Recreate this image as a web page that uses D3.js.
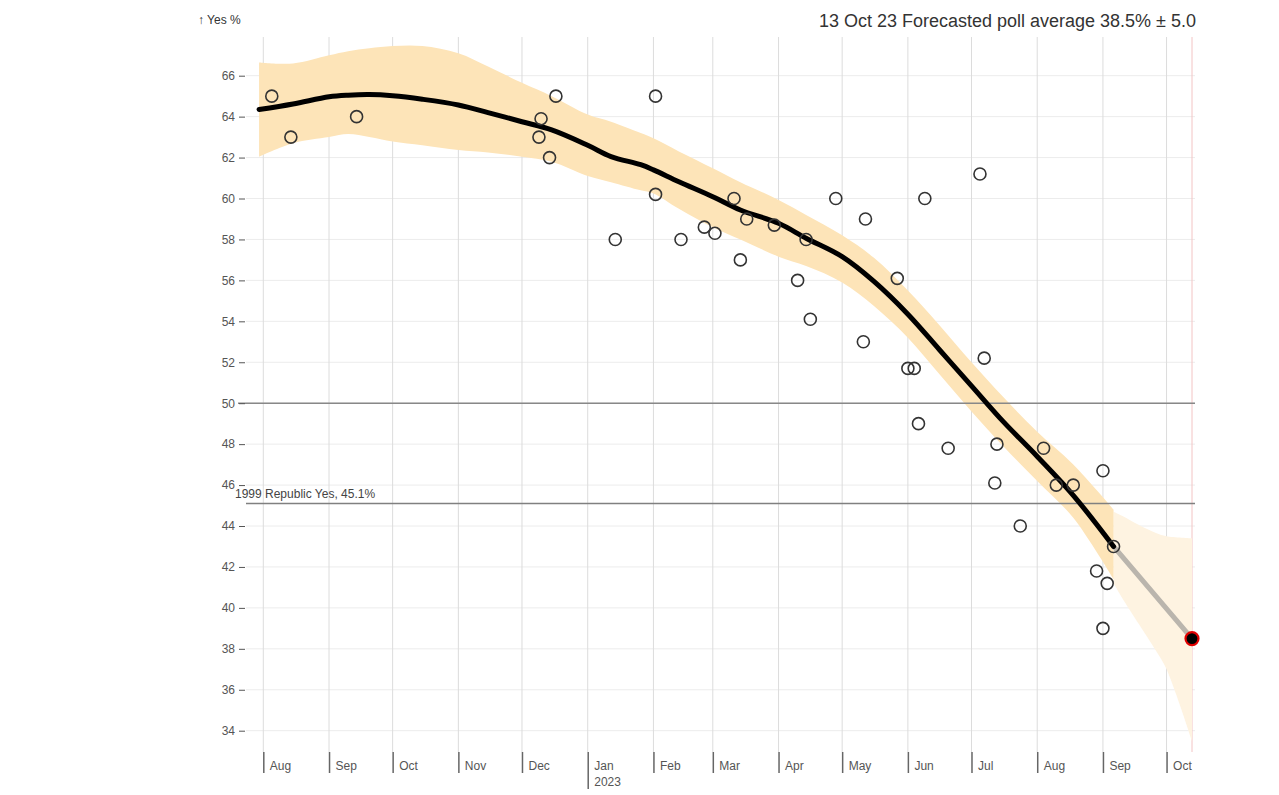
<!DOCTYPE html>
<html>
<head>
<meta charset="utf-8">
<script src="https://cdn.jsdelivr.net/npm/d3@7"></script>
<style>
  html, body { margin: 0; padding: 0; background: #fff; }
  svg { display: block; font-family: "Liberation Sans", Arial, sans-serif; }
</style>
</head>
<body>
<svg id="chart" width="1279" height="795"></svg>
<script>
// ---------------- DATA ----------------
const titleText = "13 Oct 23 Forecasted poll average 38.5% ± 5.0";
const yAxisLabel = "↑ Yes %";
const yTicks = [34,36,38,40,42,44,46,48,50,52,54,56,58,60,62,64,66];
const monthTicks = ["2022-08-01","2022-09-01","2022-10-01","2022-11-01","2022-12-01","2023-01-01",
  "2023-02-01","2023-03-01","2023-04-01","2023-05-01","2023-06-01","2023-07-01","2023-08-01","2023-09-01","2023-10-01"];
const refLines = [{value: 50, label: ""}, {value: 45.1, label: "1999 Republic Yes, 45.1%"}];

// poll results
const pollDates = ["2022-08-05","2022-08-14","2022-09-14","2022-12-10","2022-12-09","2022-12-14","2022-12-17",
  "2023-01-14","2023-02-02","2023-02-02","2023-02-14","2023-02-25","2023-03-02","2023-03-11","2023-03-17",
  "2023-03-14","2023-03-30","2023-04-14","2023-04-28","2023-04-10","2023-04-16","2023-05-12","2023-05-11",
  "2023-05-27","2023-06-01","2023-06-04","2023-06-09","2023-06-06","2023-06-20","2023-07-05","2023-07-07",
  "2023-07-13","2023-07-12","2023-07-24","2023-08-04","2023-08-10","2023-08-18","2023-09-01","2023-09-06",
  "2023-08-29","2023-09-03","2023-09-01"];
const pollValues = [65.0,63.0,64.0,63.9,63.0,62.0,65.0,
  58.0,65.0,60.2,58.0,58.6,58.3,60.0,59.0,
  57.0,58.7,58.0,60.0,56.0,54.1,59.0,53.0,
  56.1,51.7,51.7,60.0,49.0,47.8,61.2,52.2,
  48.0,46.1,44.0,47.8,46.0,46.0,46.7,43.0,
  41.8,41.2,39.0];

// trend (poll average) and its band
const trendDates = ["2022-07-30","2022-08-15","2022-09-01","2022-09-10","2022-09-20","2022-10-01","2022-10-15",
  "2022-11-01","2022-11-15","2022-12-01","2022-12-15","2023-01-01","2023-01-12","2023-01-26","2023-02-01",
  "2023-02-13","2023-03-01","2023-03-14","2023-04-01","2023-04-14","2023-05-01","2023-05-16","2023-06-01",
  "2023-06-16","2023-07-01","2023-07-16","2023-08-01","2023-08-18","2023-09-06"];
const trendValues = [64.35,64.62,64.97,65.05,65.08,65.02,64.85,
  64.57,64.2,63.75,63.35,62.6,62.05,61.65,61.4,
  60.82,60.09,59.44,58.79,58.06,57.16,55.95,54.35,
  52.6,50.85,49.1,47.4,45.5,43.0];
const bandLower = [62.04,62.7,63.0,63.15,63.0,62.78,62.6,
  62.37,62.25,62.04,61.8,61.1,60.8,60.4,60.25,
  59.5,58.6,58.0,57.16,56.7,55.9,54.75,53.2,
  51.4,49.6,47.9,46.2,44.4,41.4];
const bandUpper = [66.65,66.6,67.0,67.2,67.34,67.45,67.45,
  67.1,66.45,65.65,65.0,64.1,63.75,63.2,62.94,
  62.3,61.48,60.8,59.93,59.2,58.2,57.1,55.5,
  53.8,52.0,50.3,48.6,47.0,44.8];

// forecast
const forecastDates = ["2023-09-06","2023-10-13"];
const forecastValues = [43.0, 38.5];
const fBandDates = ["2023-09-06","2023-09-10","2023-09-18","2023-09-26","2023-10-01","2023-10-13"];
const fBandLower = [41.2,40.5,39.2,37.9,37.0,33.5];
const fBandUpper = [44.7,44.5,44.05,43.66,43.5,43.4];
const forecastDate = "2023-10-13";
const forecastValue = 38.5;

// ---------------- CHART ----------------
const parse = d3.utcParse("%Y-%m-%d");
const svg = d3.select("#chart");
const plot = {left: 246, right: 1195, top: 37, bottom: 752};

const x = d3.scaleUtc()
  .domain([parse("2022-08-01"), parse("2023-10-13")])
  .range([263.3, 1192]);
const y = d3.scaleLinear().domain([34, 66]).range([730.7, 75.7]);

const trend = trendDates.map((d,i) => ({date: parse(d), v: trendValues[i], lo: bandLower[i], hi: bandUpper[i]}));
const fband = fBandDates.map((d,i) => ({date: parse(d), lo: fBandLower[i], hi: fBandUpper[i]}));
const fline = forecastDates.map((d,i) => ({date: parse(d), v: forecastValues[i]}));
const polls = pollDates.map((d,i) => ({date: parse(d), v: pollValues[i]}));
const months = monthTicks.map(parse);

// horizontal grid
svg.append("g").selectAll("line").data(yTicks).join("line")
  .attr("x1", plot.left).attr("x2", plot.right)
  .attr("y1", d => y(d)).attr("y2", d => y(d))
  .attr("stroke", "#ececec").attr("stroke-width", 1);

// vertical grid
svg.append("g").selectAll("line").data(months).join("line")
  .attr("x1", d => x(d)).attr("x2", d => x(d))
  .attr("y1", plot.top).attr("y2", plot.bottom)
  .attr("stroke", "#dcdcdc").attr("stroke-width", 1);

// forecast date line
svg.append("line")
  .attr("x1", x(parse(forecastDate))).attr("x2", x(parse(forecastDate)))
  .attr("y1", plot.top).attr("y2", plot.bottom)
  .attr("stroke", "#f3c4c4").attr("stroke-width", 1);

// bands
const area = d3.area().x(d => x(d.date)).y0(d => y(d.lo)).y1(d => y(d.hi)).curve(d3.curveCatmullRom);
svg.append("path").datum(fband).attr("d", area).attr("fill", "#fef3e1");
svg.append("path").datum(trend).attr("d", area).attr("fill", "#fde4b8");

// reference lines
svg.append("line")
  .attr("x1", 238).attr("x2", plot.right)
  .attr("y1", y(refLines[0].value)).attr("y2", y(refLines[0].value))
  .attr("stroke", "#888").attr("stroke-width", 1.5);
svg.append("line")
  .attr("x1", plot.left).attr("x2", plot.right)
  .attr("y1", y(refLines[1].value)).attr("y2", y(refLines[1].value))
  .attr("stroke", "#808080").attr("stroke-width", 1.5);
svg.append("text")
  .attr("x", 235).attr("y", y(refLines[1].value) - 5)
  .attr("font-size", 12).attr("fill", "#444")
  .text(refLines[1].label);

// lines
const line = d3.line().x(d => x(d.date)).y(d => y(d.v)).curve(d3.curveCatmullRom);
svg.append("path").datum(fline).attr("d", line)
  .attr("fill", "none").attr("stroke", "#bab5ad").attr("stroke-width", 5).attr("stroke-linecap", "round");
svg.append("path").datum(trend).attr("d", line)
  .attr("fill", "none").attr("stroke", "#000").attr("stroke-width", 5).attr("stroke-linecap", "round");

// polls
svg.append("g").selectAll("circle").data(polls).join("circle")
  .attr("cx", d => x(d.date)).attr("cy", d => y(d.v)).attr("r", 6)
  .attr("fill", "none").attr("stroke", "#333").attr("stroke-width", 1.6);

// forecast dot
svg.append("circle")
  .attr("cx", x(parse(forecastDate))).attr("cy", y(forecastValue)).attr("r", 6.5)
  .attr("fill", "#000").attr("stroke", "#e00000").attr("stroke-width", 2.2);

// y axis
const yAxis = svg.append("g").attr("transform", "translate(245,0)")
  .call(d3.axisLeft(y).tickValues(yTicks).tickSize(6).tickPadding(4).tickFormat(d3.format("d")));
yAxis.select(".domain").remove();
yAxis.selectAll(".tick line").attr("stroke", "#555");
yAxis.selectAll(".tick text").attr("fill", "#555").attr("font-size", 12)
  .attr("font-family", "Liberation Sans, Arial, sans-serif");

// x axis
const monthFmt = d3.utcFormat("%b");
const xAxis = svg.append("g").attr("transform", `translate(0,${plot.bottom})`)
  .call(d3.axisBottom(x).tickValues(months).tickSize(20).tickFormat(monthFmt));
xAxis.select(".domain").remove();
xAxis.selectAll(".tick line").attr("stroke", "#666").attr("stroke-width", 1.5)
  .attr("y2", d => d.getUTCMonth() === 0 ? 37 : 21);
xAxis.selectAll(".tick text")
  .attr("fill", "#555").attr("font-size", 12)
  .attr("font-family", "Liberation Sans, Arial, sans-serif")
  .attr("text-anchor", "start").attr("x", 6).attr("y", 18).attr("dy", 0);
xAxis.selectAll(".tick").filter(d => d.getUTCMonth() === 0)
  .append("text").attr("fill", "#555").attr("font-size", 12)
  .attr("font-family", "Liberation Sans, Arial, sans-serif")
  .attr("text-anchor", "start")
  .attr("x", 6).attr("y", 34).text(d => d3.utcFormat("%Y")(d));

// titles
svg.append("text").attr("x", 198).attr("y", 24)
  .attr("font-size", 12).attr("fill", "#333").text(yAxisLabel);
svg.append("text").attr("x", 1196).attr("y", 27).attr("text-anchor", "end")
  .attr("font-size", 18).attr("fill", "#333").text(titleText);
</script>
</body>
</html>
